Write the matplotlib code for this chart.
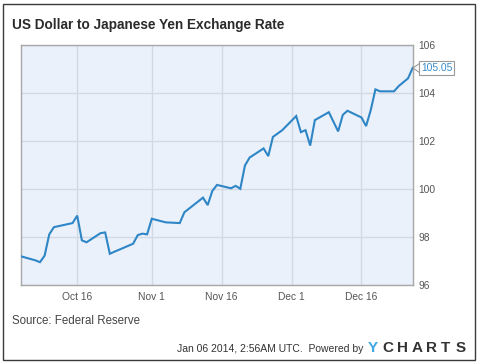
import matplotlib
matplotlib.use("Agg")
import matplotlib.pyplot as plt
import matplotlib.dates as mdates
import pandas as pd
from matplotlib.patches import Rectangle
from matplotlib.lines import Line2D

dates = ["2013-10-04", "2013-10-07", "2013-10-08", "2013-10-09", "2013-10-10", "2013-10-11",
         "2013-10-15", "2013-10-16", "2013-10-17", "2013-10-18", "2013-10-21", "2013-10-22",
         "2013-10-23", "2013-10-24", "2013-10-25", "2013-10-28", "2013-10-29", "2013-10-30",
         "2013-10-31", "2013-11-01", "2013-11-04", "2013-11-05", "2013-11-06", "2013-11-07",
         "2013-11-08", "2013-11-12", "2013-11-13", "2013-11-14", "2013-11-15", "2013-11-18",
         "2013-11-19", "2013-11-20", "2013-11-21", "2013-11-22", "2013-11-25", "2013-11-26",
         "2013-11-27", "2013-11-29", "2013-12-02", "2013-12-03", "2013-12-04", "2013-12-05",
         "2013-12-06", "2013-12-09", "2013-12-10", "2013-12-11", "2013-12-12", "2013-12-13",
         "2013-12-16", "2013-12-17", "2013-12-18", "2013-12-19", "2013-12-20", "2013-12-23",
         "2013-12-24", "2013-12-26", "2013-12-27"]
rates = [97.19, 97.03, 96.95, 97.22, 98.11, 98.41,
         98.58, 98.89, 97.86, 97.78, 98.16, 98.19,
         97.30, 97.39, 97.47, 97.72, 98.08, 98.14,
         98.11, 98.76, 98.61, 98.60, 98.59, 98.58,
         99.03, 99.64, 99.33, 99.92, 100.17, 100.03,
         100.13, 100.01, 100.98, 101.31, 101.69, 101.37,
         102.17, 102.45, 103.04, 102.37, 102.45, 101.81,
         102.87, 103.20, 102.80, 102.40, 103.09, 103.26,
         102.98, 102.62, 103.29, 104.15, 104.07, 104.07,
         104.29, 104.61, 105.05]
x_ticks = ["2013-10-16", "2013-11-01", "2013-11-16", "2013-12-01", "2013-12-16"]
x_tick_labels = ["Oct 16", "Nov 1", "Nov 16", "Dec 1", "Dec 16"]
y_ticks = [96, 98, 100, 102, 104, 106]
title = "US Dollar to Japanese Yen Exchange Rate"
source = "Source: Federal Reserve"
footer = "Jan 06 2014, 2:56AM UTC.  Powered by"
last_label = "105.05"

W, H = 480, 363
plt.rcParams['font.family'] = ['Liberation Sans', 'DejaVu Sans']
fig = plt.figure(figsize=(W / 100, H / 100), dpi=100)
fig.patch.set_facecolor("white")

def fx(x):
    return x / W

def fy(y):
    return 1 - y / H

# outer border
fig.patches.append(Rectangle((fx(3), fy(360)), fx(472), 356 / H, transform=fig.transFigure,
                             fill=False, edgecolor="#3a3a3a", linewidth=1.0))

ax = fig.add_axes([fx(21.3), fy(285), fx(412.7 - 21.3), (285 - 45) / H])
ax.set_facecolor("#EAF1FB")
d = pd.to_datetime(dates)
ax.plot(d, rates, color="#2F86C6", linewidth=1.5, solid_joinstyle="miter", zorder=3)

ax.set_xlim(pd.Timestamp("2013-10-04"), pd.Timestamp("2013-12-27"))
ax.set_ylim(96, 106)
ax.set_xticks(pd.to_datetime(x_ticks))
ax.set_xticklabels(x_tick_labels)
ax.set_yticks(y_ticks)
ax.yaxis.tick_right()
ax.tick_params(axis="both", length=0, labelsize=7.4, labelcolor="#555555")
ax.tick_params(axis="x", pad=5)
ax.tick_params(axis="y", pad=4)
ax.grid(True, color="#D2D9E4", linewidth=1.0)
ax.set_axisbelow(True)
for s in ax.spines.values():
    s.set_color("#A8A8A8")
    s.set_linewidth(1.0)

fig.text(fx(12), fy(25), title, fontsize=9.8, fontweight="bold", color="#2b2b2b",
         ha="left", va="center")
fig.text(fx(12), fy(321), source, fontsize=8.3, color="#444444", ha="left", va="center")
fig.text(fx(363), fy(348.5), footer, fontsize=7.5, color="#333333", ha="right", va="center")

logo = "YCHARTS"
for i, ch in enumerate(logo):
    fig.text(fx(368 + i * 14.6), fy(348), ch, fontsize=11, fontweight="bold",
             color="#3DA8E6" if i == 0 else "#333333", ha="left", va="center")

# last value label box with pointer
fig.text(fx(421), fy(68.2), last_label, fontsize=7.4, color="#3A8CCB", ha="left", va="center",
         bbox=dict(boxstyle="square,pad=0.18", facecolor="white", edgecolor="#9a9a9a", linewidth=0.8))
fig.lines.append(Line2D([fx(419.5), fx(413), fx(419.5)], [fy(63.5), fy(68), fy(72.5)],
                        transform=fig.transFigure, color="#9a9a9a", linewidth=0.8))

fig.savefig("out.png", dpi=100)
